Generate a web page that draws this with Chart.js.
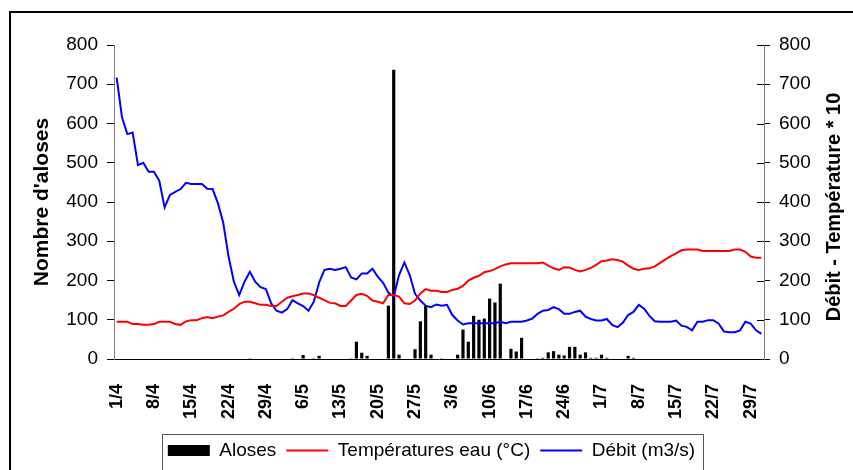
<!DOCTYPE html>
<html>
<head>
<meta charset="utf-8">
<title>Aloses, température et débit</title>
<script src="https://cdn.jsdelivr.net/npm/chart.js@4.4.1/dist/chart.umd.min.js"></script>
<style>
  html, body { margin: 0; padding: 0; background: #fff; overflow: hidden; }
  #wrap { position: relative; width: 853px; height: 470px; }
  #frame { position: absolute; left: 9px; top: 11px; width: 900px; height: 500px;
           border: 2px solid #000; box-sizing: border-box; pointer-events: none; }
</style>
</head>
<body>
<div id="wrap">
  <canvas id="chart" width="853" height="470"></canvas>
  <div id="frame"></div>
</div>
<script>
// Daily series from 1 April to 31 July
const months = [["4", 30], ["5", 31], ["6", 30], ["7", 31]];
const days = [];
months.forEach(([m, n]) => { for (let d = 1; d <= n; d++) days.push(d + "/" + m); });

const tickLabels = ["1/4", "8/4", "15/4", "22/4", "29/4", "6/5", "13/5", "20/5", "27/5",
                    "3/6", "10/6", "17/6", "24/6", "1/7", "8/7", "15/7", "22/7", "29/7"];

// Daily shad counts
const aloses = [
  0, 0, 0, 0, 0, 0, 0, 0, 0, 0,
  0, 0, 0, 0, 0, 0, 0, 0, 0, 0,
  0, 0, 0, 0, 0, 2, 0, 0, 0, 0,
  0, 0, 0, 2, 0, 10, 0, 2, 8, 0,
  0, 0, 0, 0, 2, 44, 16, 8, 0, 0,
  0, 136, 737, 11, 0, 0, 25, 96, 136, 11,
  0, 2, 0, 0, 11, 75, 44, 110, 100, 103,
  154, 144, 192, 0, 26, 19, 54, 0, 0, 2,
  3, 17, 20, 11, 9, 31, 31, 11, 17, 3,
  3, 11, 3, 0, 0, 0, 8, 3, 0, 0,
  0, 0, 0, 0, 0, 0, 0, 0, 0, 0,
  0, 0, 0, 0, 0, 0, 0, 0, 0, 0,
  0, 0
];

// Water temperature (°C)
const temperature = [
  9.5, 9.5, 9.5, 8.9, 8.9, 8.7, 8.7, 8.9, 9.5, 9.5,
  9.5, 8.9, 8.7, 9.6, 9.9, 9.9, 10.4, 10.7, 10.4, 10.8,
  11.1, 12.0, 12.8, 14.0, 14.6, 14.6, 14.2, 13.8, 13.8, 13.5,
  13.5, 14.6, 15.6, 16.0, 16.3, 16.7, 16.7, 16.3, 15.6, 15.0,
  14.3, 14.2, 13.5, 13.5, 14.9, 16.3, 16.6, 16.1, 14.9, 14.6,
  14.2, 16.3, 16.3, 15.9, 14.2, 14.0, 14.9, 16.7, 17.8, 17.4,
  17.4, 17.1, 17.1, 17.6, 17.9, 18.6, 20.0, 20.7, 21.2, 22.1,
  22.4, 22.9, 23.6, 24.1, 24.4, 24.4, 24.4, 24.4, 24.4, 24.4,
  24.6, 23.8, 23.1, 22.7, 23.4, 23.3, 22.7, 22.3, 22.7, 23.2,
  24.0, 24.9, 25.1, 25.4, 25.2, 24.8, 23.8, 23.0, 22.7, 23.0,
  23.1, 23.6, 24.5, 25.4, 26.2, 26.9, 27.7, 27.9, 27.9, 27.9,
  27.5, 27.5, 27.5, 27.5, 27.5, 27.5, 27.9, 27.9, 27.3, 26.1,
  25.8, 25.8
];

// River flow (m3/s)
const debit = [
  717, 616, 573, 577, 494, 500, 477, 477, 454, 386,
  418, 426, 433, 449, 446, 446, 446, 434, 433, 397,
  347, 261, 197, 163, 197, 222, 197, 183, 178, 142,
  123, 118, 127, 150, 142, 135, 123, 146, 195, 227,
  230, 227, 230, 234, 208, 203, 218, 218, 230, 210,
  194, 169, 159, 214, 246, 214, 166, 149, 136, 132,
  139, 136, 138, 112, 98, 88, 91, 91, 91, 91,
  91, 91, 95, 91, 95, 95, 95, 98, 103, 115,
  123, 125, 132, 127, 115, 115, 120, 123, 108, 102,
  98, 98, 102, 87, 81, 92, 112, 120, 138, 128,
  110, 96, 95, 95, 95, 98, 85, 82, 73, 95,
  95, 99, 99, 90, 70, 68, 68, 73, 95, 90,
  73, 64
];

const FONT = "'Liberation Sans', Arial, sans-serif";

// Right-hand axis title (reads bottom to top) and the inner half of its tick marks
const rightAxisDecor = {
  id: "rightAxisDecor",
  afterDraw(chart) {
    const ctx = chart.ctx;
    const area = chart.chartArea;
    const y1 = chart.scales.y1;
    ctx.save();
    ctx.strokeStyle = "#000";
    ctx.lineWidth = 1;
    y1.ticks.forEach(t => {
      const py = Math.round(y1.getPixelForValue(t.value)) + 0.5;
      ctx.beginPath();
      ctx.moveTo(area.right - 7, py);
      ctx.lineTo(area.right, py);
      ctx.stroke();
    });
    ctx.translate(834, (area.top + area.bottom) / 2 + 5);
    ctx.rotate(-Math.PI / 2);
    ctx.font = "bold 20px " + FONT;
    ctx.fillStyle = "#000";
    ctx.textAlign = "center";
    ctx.textBaseline = "middle";
    ctx.fillText("Débit - Température * 10", 0, 0);
    ctx.restore();
  }
};

// Outline round the legend
const legendBox = {
  id: "legendBox",
  afterDraw(chart) {
    const lg = chart.legend;
    if (!lg || !lg.legendHitBoxes || !lg.legendHitBoxes.length) return;
    const boxes = lg.legendHitBoxes;
    const left = Math.min(...boxes.map(b => b.left)) - 6;
    const right = Math.max(...boxes.map(b => b.left + b.width)) + 8;
    const top = lg.top + 3;
    const ctx = chart.ctx;
    ctx.save();
    ctx.strokeStyle = "#555";
    ctx.lineWidth = 1;
    ctx.beginPath();
    ctx.moveTo(Math.round(left) + 0.5, chart.height + 5);
    ctx.lineTo(Math.round(left) + 0.5, Math.round(top) + 0.5);
    ctx.lineTo(Math.round(right) + 0.5, Math.round(top) + 0.5);
    ctx.lineTo(Math.round(right) + 0.5, chart.height + 5);
    ctx.stroke();
    ctx.restore();
  }
};

new Chart(document.getElementById("chart"), {
  data: {
    labels: days,
    datasets: [
      {
        type: "bar",
        label: "Aloses",
        data: aloses,
        yAxisID: "y",
        backgroundColor: "#000",
        borderWidth: 0,
        barPercentage: 0.6,
        categoryPercentage: 1.0,
        pointStyle: "rect",
        order: 3
      },
      {
        type: "line",
        label: "Températures eau (°C)",
        data: temperature.map(t => t * 10),
        yAxisID: "y1",
        borderColor: "#ff0000",
        backgroundColor: "#ff0000",
        borderWidth: 2,
        pointRadius: 0,
        tension: 0,
        pointStyle: "line",
        order: 1
      },
      {
        type: "line",
        label: "Débit (m3/s)",
        data: debit,
        yAxisID: "y1",
        borderColor: "#0000ff",
        backgroundColor: "#0000ff",
        borderWidth: 2,
        pointRadius: 0,
        tension: 0,
        pointStyle: "line",
        order: 2
      }
    ]
  },
  options: {
    responsive: false,
    animation: false,
    devicePixelRatio: 1,
    layout: { padding: { left: 10, right: 0, top: 45, bottom: 0 } },
    plugins: {
      tooltip: { enabled: false },
      legend: {
        position: "bottom",
        labels: {
          usePointStyle: true,
          pointStyleWidth: 42,
          boxHeight: 11,
          padding: 10,
          color: "#000",
          font: { family: FONT, size: 19 },
          sort: (a, b) => a.datasetIndex - b.datasetIndex
        }
      }
    },
    scales: {
      x: {
        offset: true,
        grid: { display: false },
        border: { color: "#000", width: 1 },
        ticks: {
          autoSkip: false,
          minRotation: 90,
          maxRotation: 90,
          padding: 17,
          color: "#000",
          font: { family: FONT, size: 18, weight: "bold" },
          callback: function (value) {
            const l = this.getLabelForValue(value);
            return tickLabels.includes(l) ? l : "";
          }
        },
        afterFit: s => { s.height = 72; }
      },
      y: {
        position: "left",
        min: 0,
        max: 800,
        ticks: { stepSize: 100, padding: 9, color: "#000", font: { family: FONT, size: 19 } },
        grid: { drawOnChartArea: false, color: "#000", tickLength: 7 },
        border: { color: "#808080", width: 1 },
        title: {
          display: true,
          text: "Nombre d'aloses",
          color: "#000",
          font: { family: FONT, size: 21, weight: "bold" },
          padding: { top: 20, bottom: 0 }
        },
        afterFit: s => { s.width = 104; }
      },
      y1: {
        position: "right",
        min: 0,
        max: 800,
        ticks: { stepSize: 100, padding: 9, color: "#000", font: { family: FONT, size: 19 } },
        grid: { drawOnChartArea: false, color: "#000", tickLength: 6 },
        border: { color: "#808080", width: 1 },
        afterFit: s => { s.width = 89; }
      }
    }
  },
  plugins: [rightAxisDecor, legendBox]
});
</script>
</body>
</html>
